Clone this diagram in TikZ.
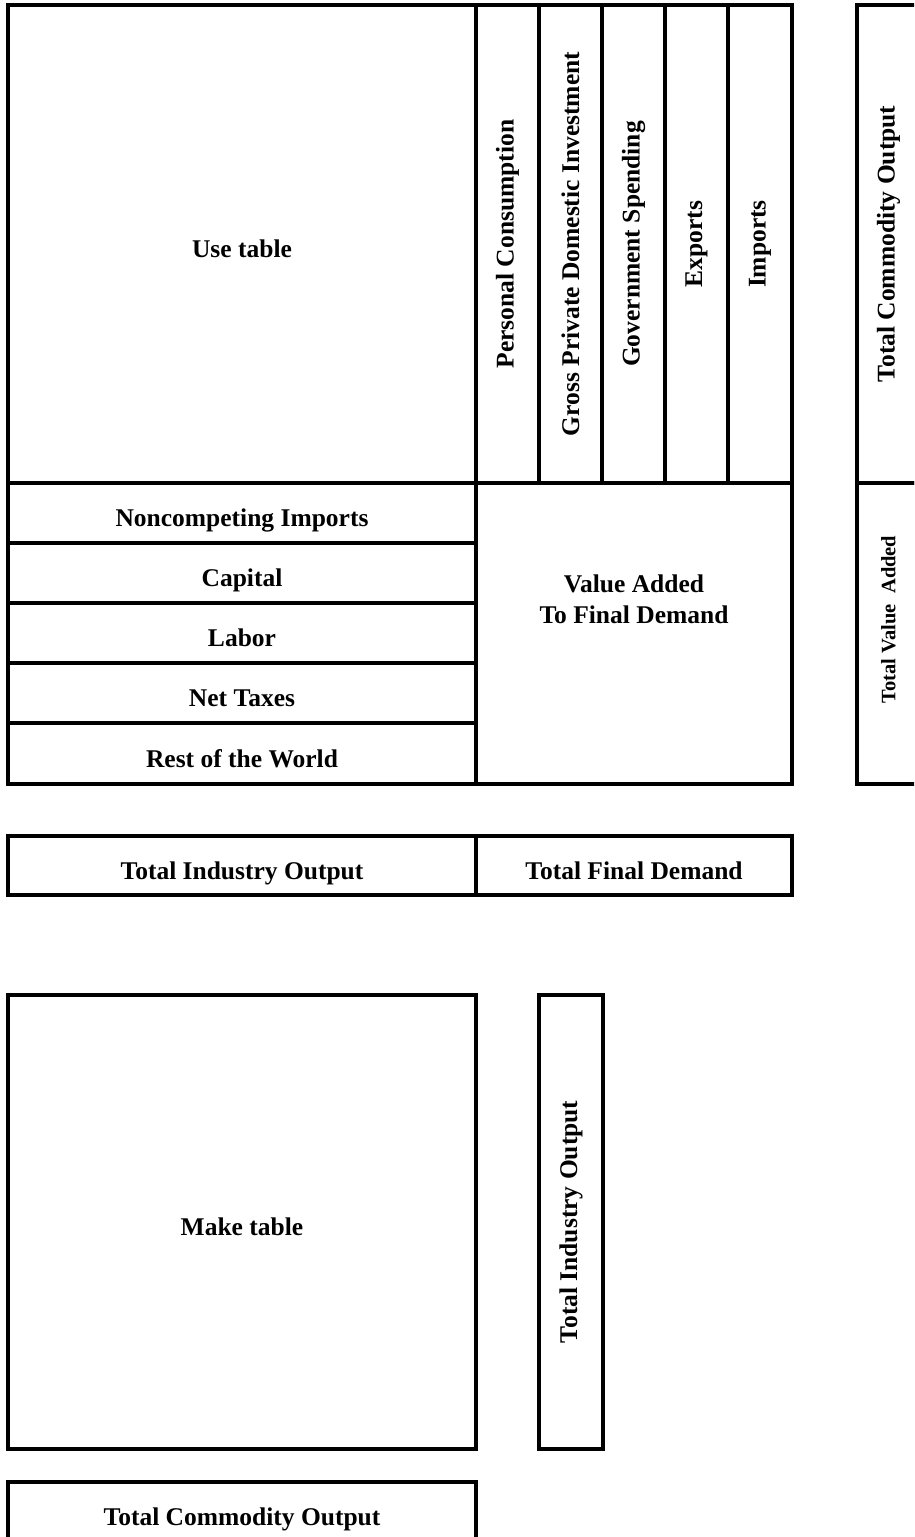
\documentclass[tikz,border=0pt]{standalone}
\usepackage{fontspec}
\setmainfont{Liberation Serif}

\begin{document}
\begin{tikzpicture}[x=1pt, y=-1pt,
		every node/.style={draw, line width=3.5pt, inner sep=0pt, align=center, font=\fontsize{25.5}{31}\selectfont\bfseries},
		hbox/.style={text height=27pt, text depth=0pt},
		vcol/.style={rotate=90, minimum width=478, minimum height=63},
		hrow/.style={hbox, minimum width=468, minimum height=60}
		]
		\useasboundingbox (0,0) rectangle (914,1537);
		\clip (0,0) rectangle (914,1537);

		\node[hbox, minimum width=468, minimum height=478] (use) at (242,244) {Use table};
		\node[vcol] (pc) at (507.5,244) {Personal Consumption};
		\node[vcol] (gpdi) at (570.5,244) {Gross Private Domestic Investment};
		\node[vcol] (gov) at (633.5,244) {Government Spending};
		\node[vcol] (exp) at (696.5,244) {Exports};
		\node[vcol, minimum height=64] (imp) at (760,244) {Imports};
		\node[vcol] (tco) at (888.5,244) {Total Commodity Output};
		\node[minimum width=63, minimum height=301] (tvabox) at (888.5,633.5) {};
		\node[draw=none, rotate=90, font=\fontsize{20.5}{25}\selectfont\bfseries] (tva) at (888.5,619.5) {Total Value~~Added};

		\node[hrow] (nci) at (242,513) {Noncompeting Imports};
		\node[hrow] (cap) at (242,573) {Capital};
		\node[hrow] (lab) at (242,633) {Labor};
		\node[hrow] (tax) at (242,693) {Net Taxes};
		\node[hrow, minimum height=61] (row) at (242,753.5) {Rest of the World};
		\node[minimum width=316, minimum height=301] (va) at (634,633.5) {};
		\node[draw=none] (vatext) at (634,599.5) {Value Added\\To Final Demand};

		\node[hbox, minimum width=468, minimum height=59] (tio) at (242,865.5) {Total Industry Output};
		\node[hbox, minimum width=316, minimum height=59] (tfd) at (634,865.5) {Total Final Demand};

		\node[hbox, minimum width=468, minimum height=454] (make) at (242,1222) {Make table};
		\node[rotate=90, minimum width=454, minimum height=64] (mtio) at (571,1222) {Total Industry Output};
		\node[hbox, minimum width=468, minimum height=60] (mtco) at (242,1512) {Total Commodity Output};
	\end{tikzpicture}
\end{document}
